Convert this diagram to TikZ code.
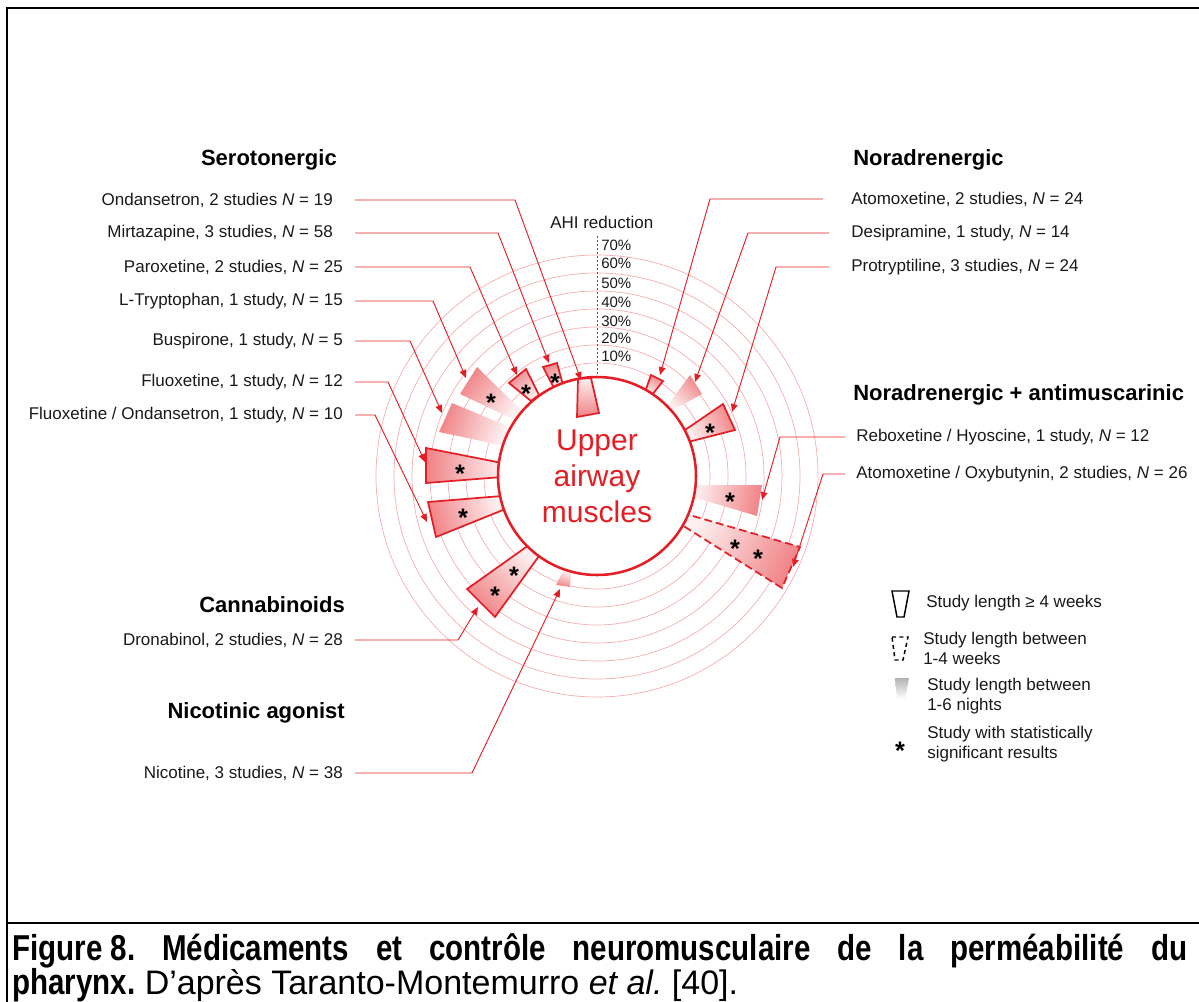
\documentclass[tikz,border=0pt]{standalone}
\usepackage{fontspec}
\setmainfont{Liberation Sans}
\newfontfamily\capbf[FakeStretch=0.82]{Liberation Sans}
\usetikzlibrary{arrows.meta}
\definecolor{mred}{RGB}{228,30,36}
\definecolor{txt}{RGB}{25,25,25}
\frenchspacing
\tikzset{
  conn/.style={draw=mred, line width=0.7pt, -{Triangle[length=6pt,width=5pt]}},
  lab/.style={inner sep=0pt, text=txt, font=\fontsize{12.75}{15}\selectfont},
  leg/.style={lab, anchor=west, align=left},
  ttl/.style={inner sep=0pt, text=black, font=\fontsize{16.5}{19}\selectfont\bfseries},
  pct/.style={inner sep=0pt, anchor=west, text=txt, font=\fontsize{11.25}{13}\selectfont},
  ring/.style={draw=mred!38, line width=0.5pt},
  wsh/.style={top color=mred!55, bottom color=mred!7, shading angle=#1},
  solidw/.style={draw=mred, line width=1.3pt, line join=miter},
  dashw/.style={draw=mred, line width=1.3pt, dash pattern=on 6pt off 3pt},
  astk/.style={inner sep=0pt, text=black, font=\fontsize{19}{19}\selectfont\bfseries, yshift=-4pt},
  frame/.style={draw=black, line width=1.9pt},
}
\begin{document}
\begin{tikzpicture}[x=0.75pt,y=-0.75pt]
\useasboundingbox (0,0) rectangle (1199,1002);
% frame
\draw[frame] (7,1002) -- (7,8) -- (1199,8);
\draw[frame] (7,923) -- (1199,923);
% rings
\foreach \r in {84.75pt,98.25pt,111.75pt,125.25pt,138.75pt,152.25pt,165.75pt}
  \draw[ring] (597,476) circle[radius=\r];
% outward wedges
\path[wsh=22, solidw] (543,367) -- (557,363) -- (563,385) -- (554,388) -- cycle;
\path[wsh=39, solidw] (509,383) -- (526,369) -- (539,395) -- (531,401) -- cycle;
\path[wsh=52] (460,394) -- (477,367) -- (521,410) -- (515,420) -- cycle;
\path[wsh=71] (452,403) -- (439,432) -- (505,446) -- (507,426) -- cycle;
\path[wsh=88, solidw] (426,448) -- (426,483) -- (502,477) -- (502,463) -- cycle;
\path[wsh=104, solidw] (428,502) -- (436,537) -- (503,510) -- (502,496) -- cycle;
\path[wsh=135, solidw] (467,589) -- (495,617) -- (539,556) -- (529,545) -- cycle;
\path[wsh=162] (556,585) -- (570,587) -- (571,573) -- (563,571) -- cycle;
\path[wsh=-29, solidw] (651,375) -- (663,381) -- (652,395) -- (645,392) -- cycle;
\path[wsh=-48] (668,405) -- (673,410) -- (702,394) -- (690,375) -- cycle;
\path[wsh=-66, solidw] (685,430) -- (688,442) -- (735,430) -- (723,404) -- cycle;
\path[wsh=-99] (694,485) -- (693,497) -- (757,516) -- (762,485) -- cycle;
\path[wsh=-114, dashw] (686,514) -- (685,527) -- (782,588) -- (800,547) -- cycle;
% central circle
\node[circle, draw=mred, line width=1.9pt, fill=white, minimum size=148.5pt, inner sep=0pt,
      text=mred, align=center, font=\fontsize{22.5}{27}\selectfont] (uam) at (597,476) {Upper\\airway\\muscles};
% inward wedge
\path[wsh=-180, solidw] (578,379) -- (591,378) -- (599,413) -- (577,417) -- cycle;
% axis
\coordinate (axtop) at (597,236);
\draw[mred, line width=0.5pt, dash pattern=on 1.5pt off 1.5pt] (axtop) -- (uam.north);
\node[lab, anchor=west] (ahi) at (550,222) {AHI reduction};
\node[pct] (p70) at (601,245) {70\%};
\node[pct] (p60) at (601,263) {60\%};
\node[pct] (p50) at (601,283) {50\%};
\node[pct] (p40) at (601,302) {40\%};
\node[pct] (p30) at (601,321) {30\%};
\node[pct] (p20) at (601,338) {20\%};
\node[pct] (p10) at (601,356) {10\%};
% significance stars
\node[astk] (s1) at (555,377) {*};
\node[astk] (s2) at (526,388) {*};
\node[astk] (s3) at (491,397) {*};
\node[astk] (s4) at (460,468) {*};
\node[astk] (s5) at (463,512) {*};
\node[astk] (s6) at (514,570) {*};
\node[astk] (s7) at (495,590) {*};
\node[astk] (s8) at (710,427) {*};
\node[astk] (s9) at (730,496) {*};
\node[astk] (s10) at (735,543) {*};
\node[astk] (s11) at (758,553) {*};
% titles
\node[ttl, anchor=east] (sero) at (337,160) {Serotonergic};
\node[ttl, anchor=west] (nora) at (853,160) {Noradrenergic};
\node[ttl, anchor=west] (noam) at (853,395) {Noradrenergic + antimuscarinic};
\node[ttl, anchor=east] (canna) at (345,605) {Cannabinoids};
\node[ttl, anchor=east] (nicag) at (345,713) {Nicotinic agonist};
% left labels
\node[lab, anchor=east] (onda) at (333,200) {Ondansetron, 2 studies \textit{N} = 19};
\node[lab, anchor=east] (mirt) at (333,233) {Mirtazapine, 3 studies, \textit{N} = 58};
\node[lab, anchor=east] (paro) at (343,267) {Paroxetine, 2 studies, \textit{N} = 25};
\node[lab, anchor=east] (ltry) at (343,301) {L-Tryptophan, 1 study, \textit{N} = 15};
\node[lab, anchor=east] (busp) at (343,341) {Buspirone, 1 study, \textit{N} = 5};
\node[lab, anchor=east] (fluo) at (343,382) {Fluoxetine, 1 study, \textit{N} = 12};
\node[lab, anchor=east] (flon) at (343,415) {Fluoxetine / Ondansetron, 1 study, \textit{N} = 10};
\node[lab, anchor=east] (dron) at (343,640) {Dronabinol, 2 studies, \textit{N} = 28};
\node[lab, anchor=east] (nico) at (343,773) {Nicotine, 3 studies, \textit{N} = 38};
% right labels
\node[lab, anchor=west] (atom) at (851,199) {Atomoxetine, 2 studies, \textit{N} = 24};
\node[lab, anchor=west] (desi) at (851,233) {Desipramine, 1 study, \textit{N} = 14};
\node[lab, anchor=west] (prot) at (851,267) {Protryptiline, 3 studies, \textit{N} = 24};
\node[lab, anchor=west] (rebo) at (856,437) {Reboxetine / Hyoscine, 1 study, \textit{N} = 12};
\node[lab, anchor=west] (atox) at (856,474) {Atomoxetine / Oxybutynin, 2 studies, \textit{N} = 26};
% elbows and tips
\coordinate (e1) at (515,200);  \coordinate (t1) at (581,380);
\coordinate (e2) at (498,233);  \coordinate (t2) at (549,363);
\coordinate (e3) at (470,267);  \coordinate (t3) at (517,375);
\coordinate (e4) at (433,301);  \coordinate (t4) at (466,378);
\coordinate (e5) at (410,341);  \coordinate (t5) at (442,413);
\coordinate (e6) at (388,382);  \coordinate (t6) at (425,462);
\coordinate (e7) at (375,415);  \coordinate (t7) at (427,522);
\coordinate (e8) at (458,640);  \coordinate (t8) at (478,607);
\coordinate (e9) at (472,773);  \coordinate (t9) at (560,589);
\coordinate (e10) at (710,199); \coordinate (t10) at (660,375);
\coordinate (e11) at (748,233); \coordinate (t11) at (695,382);
\coordinate (e12) at (776,267); \coordinate (t12) at (732,412);
\coordinate (e13) at (780,437); \coordinate (t13) at (762,500);
\coordinate (e14) at (823,474); \coordinate (t14) at (793,567);
% connectors
\draw[conn] ([xshift=16.5pt]onda.east) -- (e1) -- (t1);
\draw[conn] ([xshift=16.5pt]mirt.east) -- (e2) -- (t2);
\draw[conn] ([xshift=9pt]paro.east) -- (e3) -- (t3);
\draw[conn] ([xshift=9pt]ltry.east) -- (e4) -- (t4);
\draw[conn] ([xshift=9pt]busp.east) -- (e5) -- (t5);
\draw[conn] ([xshift=9pt]fluo.east) -- (e6) -- (t6);
\draw[conn] ([xshift=9pt]flon.east) -- (e7) -- (t7);
\draw[conn] ([xshift=9pt]dron.east) -- (e8) -- (t8);
\draw[conn] ([xshift=9pt]nico.east) -- (e9) -- (t9);
\draw[conn] ([xshift=-21pt]atom.west) -- (e10) -- (t10);
\draw[conn] ([xshift=-16.5pt]desi.west) -- (e11) -- (t11);
\draw[conn] ([xshift=-16.5pt]prot.west) -- (e12) -- (t12);
\draw[conn] ([xshift=-8.25pt]rebo.west) -- (e13) -- (t13);
\draw[conn] ([xshift=-8.25pt]atox.west) -- (e14) -- (t14);
% legend
\draw[black, line width=1.1pt, line join=miter] (892,591) -- (909,591) -- (904,617) -- (897,617) -- cycle;
\node[leg] (lg1) at (926,603) {Study length ≥ 4 weeks};
\draw[black, line width=1.1pt, dash pattern=on 3pt off 2.5pt] (892,637) -- (908,637) -- (903,660) -- (895,660) -- cycle;
\node[leg] (lg2) at (923,648) {Study length between\\1-4 weeks};
\shade[top color=black!30, bottom color=white] (895,678) -- (909,678) -- (905,699) -- (897,699) -- cycle;
\node[leg] (lg3) at (927,696) {Study length between\\1-6 nights};
\node[astk] (lgs) at (900,745) {*};
\node[leg] (lg4) at (927,744) {Study with statistically\\significant results};
% caption
\node[anchor=base west, inner sep=0pt, text=black, font=\fontsize{27}{30}\capbf\bfseries] (cap1) at (12,960)
  {\hbox to 881.25pt{Figure 8.\hfill Médicaments\hfill et\hfill contrôle\hfill neuromusculaire\hfill de\hfill la\hfill perméabilité\hfill du}};
\node[anchor=base west, inner sep=0pt, text=black, font=\fontsize{25.5}{30}\selectfont] (cap2) at (12,994)
  {{\fontsize{27}{30}\capbf\bfseries pharynx.} D’après Taranto-Montemurro \textit{et al.} [40].};
\end{tikzpicture}
\end{document}
